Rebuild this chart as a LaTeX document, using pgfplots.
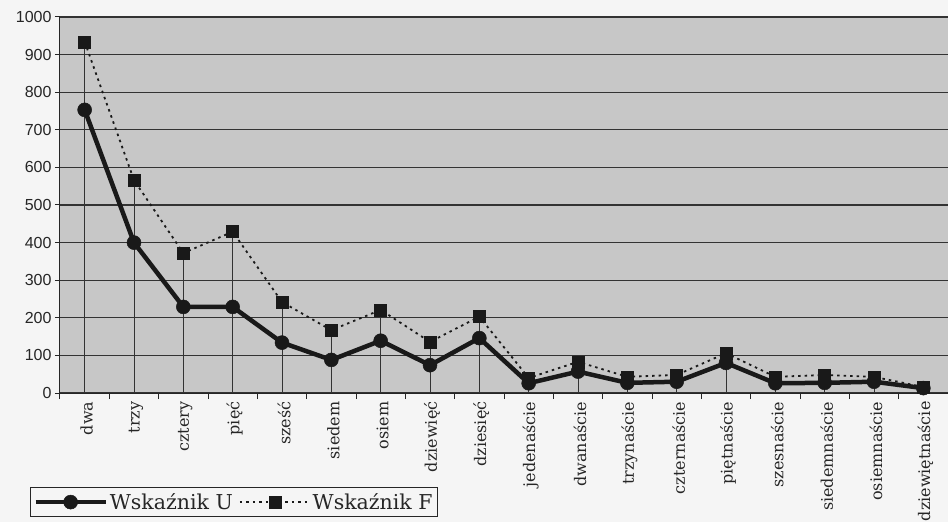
\documentclass[border=0pt]{standalone}
\usepackage{pgfplots}
\pgfplotsset{compat=1.18}
\usepackage{fontspec}
\setmainfont{DejaVu Serif}
\newfontfamily\ticksans{Liberation Sans}
\begin{document}
\begin{tikzpicture}
\fill[black!4] (-60pt,-129pt) rectangle (888pt,393pt);
\begin{axis}[
  scale only axis, width=888pt, height=376pt,
  xmin=-0.5, xmax=17.5, ymin=0, ymax=1000,
  axis x line*=bottom, axis y line*=left,
  axis line style={black!85, line width=1pt},
  axis background/.style={fill=black!22},
  xtick={0,...,17},
  xticklabels={dwa,trzy,cztery,pięć,sześć,siedem,osiem,dziewięć,dziesięć,jedenaście,dwanaście,trzynaście,czternaście,piętnaście,szesnaście,siedemnaście,osiemnaście,dziewiętnaście},
  xticklabel style={rotate=90, anchor=east, font=\fontsize{16}{18}\selectfont, text=black!85, yshift=-2pt},
  major x tick style={draw=none},
  minor xtick={-0.5,0.5,...,17.5},
  minor tick length=6pt,
  minor x tick style={black!85, line width=1pt},
  tick align=outside,
  ytick={0,100,...,1000},
  major tick length=5pt,
  major y tick style={black!85, line width=1pt},
  yticklabel style={font=\ticksans\fontsize{16}{18}\selectfont, text=black!85},
  /pgf/number format/assume math mode=true,
  /pgf/number format/1000 sep={},
  ymajorgrids,
  major grid style={black!80, line width=1.1pt},
  legend columns=2,
  legend style={at={(axis description cs:-0.0338,-0.25)}, anchor=north west,
    draw=black!85, line width=0.8pt, fill=black!4,
    font=\fontsize{20.5}{23}\selectfont, text=black!85,
    /tikz/every even column/.append style={column sep=4pt},
    inner xsep=3pt, inner ysep=4pt},
  legend image code/.code={\draw[mark repeat=2,mark phase=2,#1] plot coordinates {(0pt,0pt) (35pt,0pt) (70pt,0pt)};},
]
\addplot[ycomb, black!80, line width=0.8pt, mark=none, forget plot] coordinates {
(0,934) (1,566) (2,372) (3,429) (4,242) (5,167) (6,221) (7,136) (8,203)
(9,40) (10,83) (11,43) (12,48) (13,106) (14,43) (15,48) (16,43) (17,16)};
\addplot[black!90, line width=4.5pt, mark=*, mark size=7pt, mark options={solid, line width=0.5pt}] coordinates {
(0,753) (1,400) (2,229) (3,229) (4,134) (5,88) (6,139) (7,74) (8,146)
(9,26) (10,57) (11,27) (12,30) (13,80) (14,26) (15,27) (16,30) (17,13)};
\addlegendentry{Wskaźnik U}
\addplot[black!90, line width=1.8pt, dash pattern=on 2.5pt off 4pt, mark=square*, mark size=6pt, mark options={solid, line width=0.5pt}] coordinates {
(0,934) (1,566) (2,372) (3,429) (4,242) (5,167) (6,221) (7,136) (8,203)
(9,40) (10,83) (11,43) (12,48) (13,106) (14,43) (15,48) (16,43) (17,16)};
\addlegendentry{Wskaźnik F}
\end{axis}
\pgfresetboundingbox
\path[use as bounding box] (-60pt,-129pt) rectangle (888pt,393pt);
\end{tikzpicture}
\end{document}
